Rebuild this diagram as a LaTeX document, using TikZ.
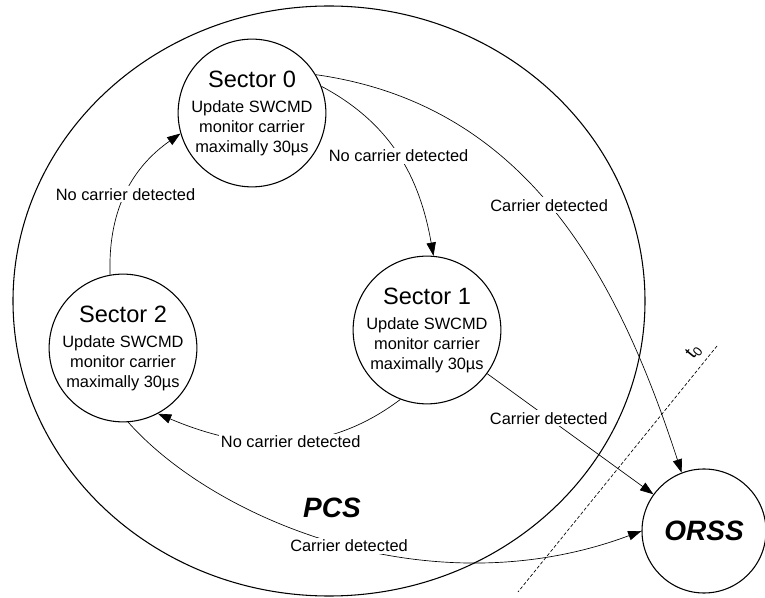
\documentclass[tikz,border=0pt]{standalone}
\usepackage{fontspec}
\setmainfont{Liberation Sans}
\usetikzlibrary{shapes.geometric,arrows.meta,positioning}

\begin{document}
\begin{tikzpicture}[x=0.75pt, y=0.75pt,
  sector/.style={circle, draw, line width=0.8pt, minimum size=105pt, inner sep=0pt, align=center,
    font=\fontsize{12.3}{15}\selectfont},
  lbl/.style={fill=white, inner sep=1.5pt, font=\fontsize{12.3}{15}\selectfont},
  arr/.style={line width=0.5pt, -{Triangle[length=10pt,width=7pt]}}]
\useasboundingbox (0,0) rectangle (765,-598);

% the PCS region
\node[ellipse, draw, line width=0.8pt, minimum width=474pt, minimum height=442.5pt, inner sep=0pt] (pcs) at (329,-301) {};
\node[font=\fontsize{21}{24}\selectfont\bfseries\itshape] (pcslbl) at (332,-508) {PCS};

% sectors
\node[sector] (s0) at (252,-113) {{\fontsize{17.7}{18}\selectfont Sector 0}\\[3.75pt] Update SWCMD\\ monitor carrier\\ maximally 30µs};
\node[sector] (s1) at (427,-330) {{\fontsize{17.7}{18}\selectfont Sector 1}\\[3.75pt] Update SWCMD\\ monitor carrier\\ maximally 30µs};
\node[sector] (s2) at (123,-348) {{\fontsize{17.7}{18}\selectfont Sector 2}\\[3.75pt] Update SWCMD\\ monitor carrier\\ maximally 30µs};
\node[sector, minimum size=93pt, font=\fontsize{21}{24}\selectfont\bfseries\itshape] (orss) at (704,-531) {ORSS};

% t0 boundary
\coordinate (t0top) at (717,-346);
\coordinate (t0bot) at (518,-592);
\draw[line width=0.5pt, dash pattern=on 2.5pt off 1.5pt] (t0top) -- (t0bot);
\node[rotate=51, font=\fontsize{14}{16}\selectfont] (t0) at (694,-352) {t\textsubscript{0}};

% transitions
\draw[arr] (s0.21) to[out=-28, in=100] node[lbl] {No carrier detected} (s1.85);
\draw[arr] (s1.-111) to[out=-143, in=-23] node[lbl, pos=0.47] {No carrier detected} (s2.-62);
\draw[arr] (s2.100) to[out=92, in=-145] node[lbl] {No carrier detected} (s0.196);
\draw[arr] (s0.31) to[out=-8, in=108] node[lbl, pos=0.49] {Carrier detected} (orss.111);
\draw[arr] (s1) -- node[lbl, pos=0.37] {Carrier detected} (orss);
\draw[arr] (s2.-86) .. controls (215,-520) and (430,-610) .. node[lbl, pos=0.52] {Carrier detected} (orss.180);
\end{tikzpicture}
\end{document}
